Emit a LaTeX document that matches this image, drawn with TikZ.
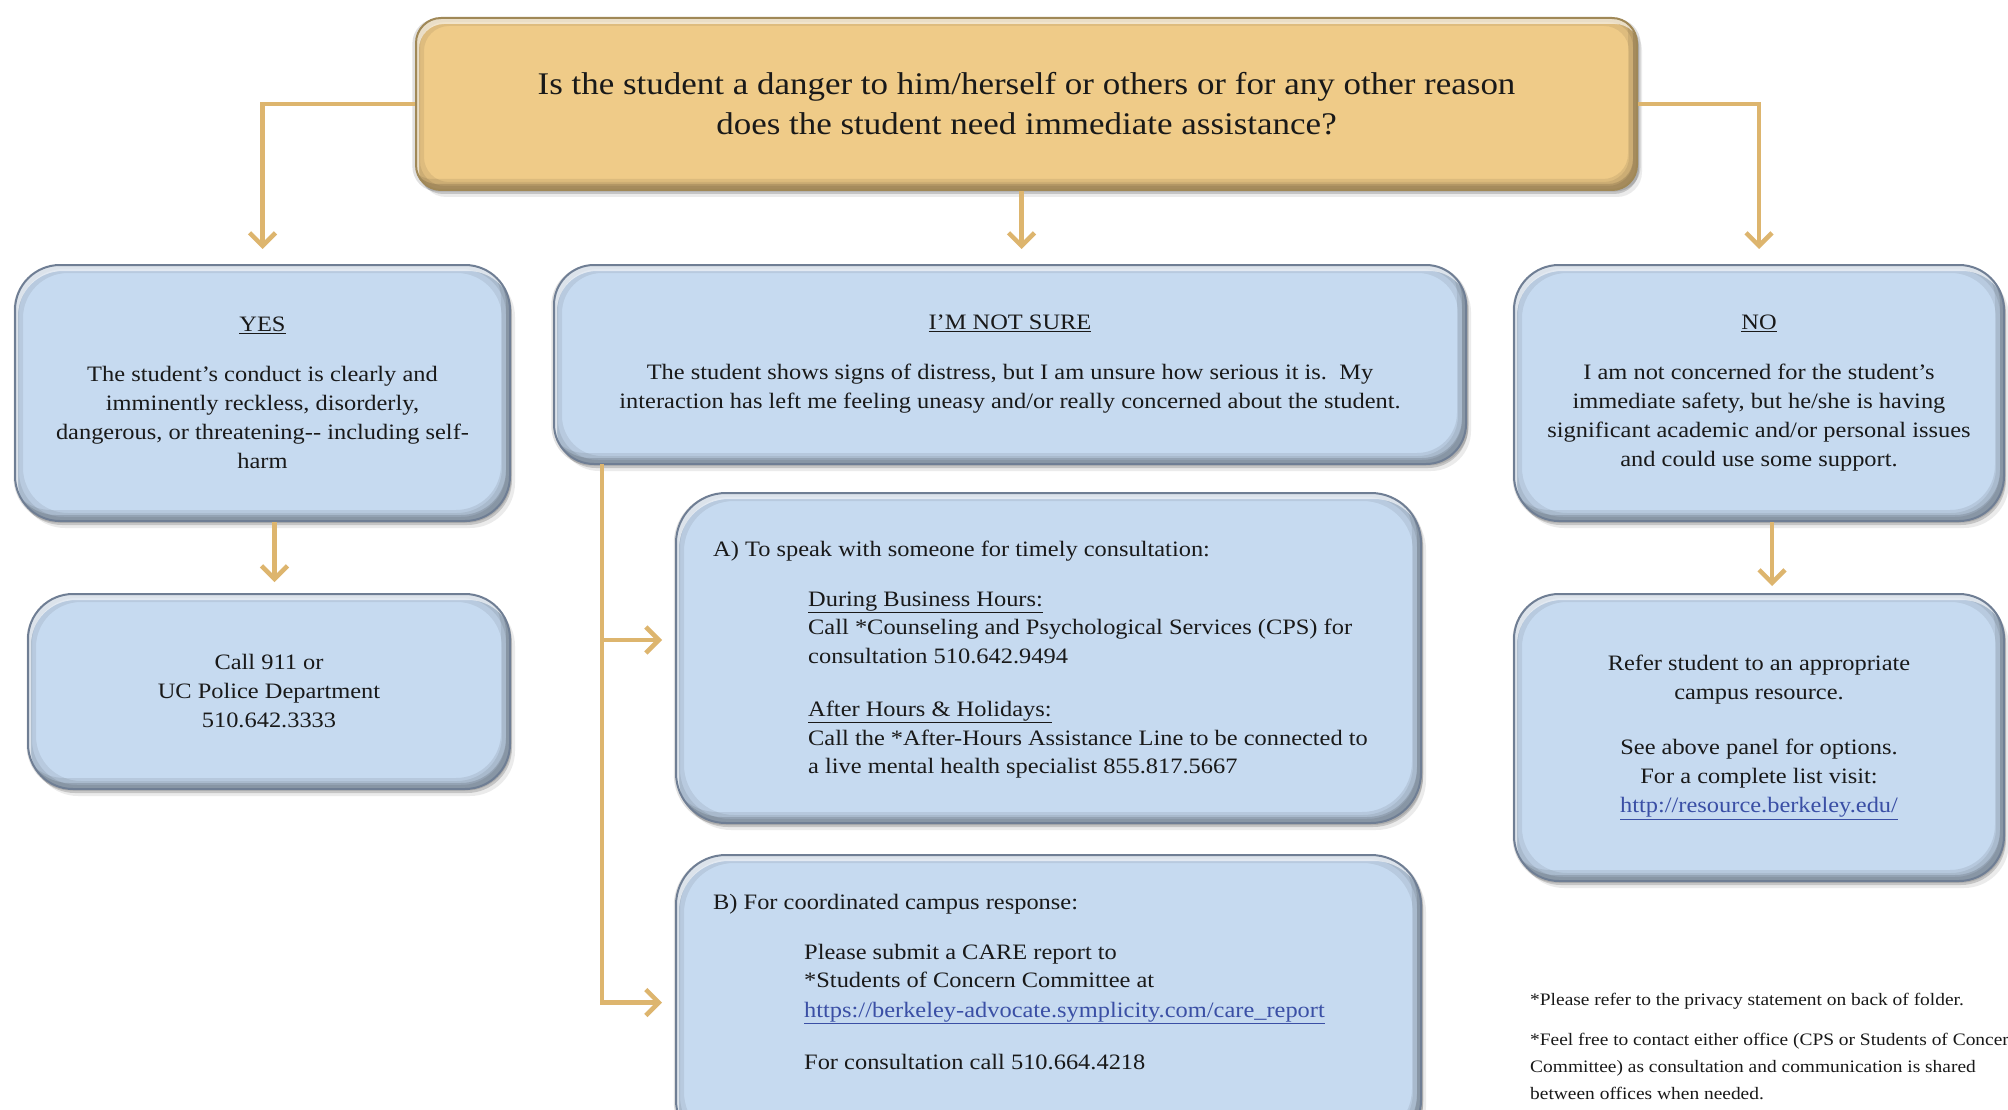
\documentclass[tikz,border=0pt]{standalone}
\usepackage{fontspec}
\setmainfont[FakeStretch=1.11]{Liberation Serif}
\usetikzlibrary{arrows.meta,shadows}
\definecolor{boxblue}{HTML}{C6DAF0}
\definecolor{rim}{HTML}{6F7E94}
\definecolor{gold}{HTML}{EFCB88}
\definecolor{goldrim}{HTML}{A08857}
\definecolor{conn}{HTML}{DDB56E}
\definecolor{urlblue}{HTML}{3A4FA5}
\begin{document}
\begin{tikzpicture}[x=1pt,y=-1pt,
  every node/.style={font=\fontsize{22}{29}\selectfont, text=black!90},
  softshadow/.style={drop shadow={shadow xshift=5pt,shadow yshift=-7pt,opacity=0.08,fill=black},
                     drop shadow={shadow xshift=2pt,shadow yshift=-4pt,opacity=0.16,fill=black},
                     drop shadow={shadow xshift=0pt,shadow yshift=-1pt,shadow scale=1.006,opacity=0.12,fill=black}},
  bevel/.style={path picture={
      % all-around inner darkening
      \fill[black, opacity=0.07, even odd rule]
        ([shift={(-2,-2)}]path picture bounding box.north west) rectangle ([shift={(2,2)}]path picture bounding box.south east)
        [rounded corners=#1] ([shift={(8,8)}]path picture bounding box.north west) rectangle ([shift={(-8,-8)}]path picture bounding box.south east);
      \fill[black, opacity=0.08, even odd rule]
        ([shift={(-2,-2)}]path picture bounding box.north west) rectangle ([shift={(2,2)}]path picture bounding box.south east)
        [rounded corners=#1] ([shift={(4,4)}]path picture bounding box.north west) rectangle ([shift={(-4,-4)}]path picture bounding box.south east);
      % extra bottom/right darkening
      \fill[black, opacity=0.08, even odd rule]
        ([shift={(-2,-2)}]path picture bounding box.north west) rectangle ([shift={(2,2)}]path picture bounding box.south east)
        [rounded corners=#1] ([shift={(-9,-11)}]path picture bounding box.north west) rectangle ([shift={(-9,-11)}]path picture bounding box.south east);
      \fill[black, opacity=0.12, even odd rule]
        ([shift={(-2,-2)}]path picture bounding box.north west) rectangle ([shift={(2,2)}]path picture bounding box.south east)
        [rounded corners=#1] ([shift={(-4,-6)}]path picture bounding box.north west) rectangle ([shift={(-4,-6)}]path picture bounding box.south east);
      % top-left highlight
      \fill[white, opacity=0.6, even odd rule]
        ([shift={(-2,-2)}]path picture bounding box.north west) rectangle ([shift={(2,2)}]path picture bounding box.south east)
        [rounded corners=#1] ([shift={(3,6)}]path picture bounding box.north west) rectangle ([shift={(3,6)}]path picture bounding box.south east);
  }},
  bluebox/.style={softshadow, draw=rim, line width=2pt, fill=boxblue, rounded corners=#1, bevel=#1, align=center},
  bluebox/.default=45pt,
  goldbox/.style={softshadow, draw=goldrim, line width=2pt, fill=gold, rounded corners=25pt, bevel=25pt, align=center},
  conn/.style={draw=conn, line width=4.5pt, -{Straight Barb[length=13pt,width=26pt,line width=4.5pt]}},
  txtline/.style={anchor=west, inner sep=0pt, text height=15pt, text depth=5pt},
  foot/.style={anchor=west, inner sep=0pt, align=left, font=\fontsize{17.5}{27}\selectfont}
]
\useasboundingbox (0,0) rectangle (2008,1110);
\fill[white] (0,0) rectangle (2008,1110);
\clip (0,0) rectangle (2008,1110);

% top question
\node[goldbox, minimum width=1221pt, minimum height=172pt, font=\fontsize{31.5}{40}\selectfont] (top) at (1026.5,104)
  {Is the student a danger to him/herself or others or for any other reason\\does the student need immediate assistance?};

% three answer boxes
\node[bluebox, minimum width=495pt, minimum height=256pt] (yes) at (262.5,393)
  {\underline{YES}\\[21pt]The student’s conduct is clearly and\\imminently reckless, disorderly,\\dangerous, or threatening{-}{-} including self-\\harm};

\node[bluebox=40pt, minimum width=912pt, minimum height=199pt] (mid) at (1010,364.5)
  {\underline{I’M NOT SURE}\\[21pt]The student shows signs of distress, but I am unsure how serious it is.\ \ My\\interaction has left me feeling uneasy and/or really concerned about the student.};

\node[bluebox, minimum width=490pt, minimum height=256pt] (no) at (1759,393)
  {\underline{NO}\\[21pt]I am not concerned for the student’s\\immediate safety, but he/she is having\\significant academic and/or personal issues\\and could use some support.};

% second row
\node[bluebox, minimum width=482pt, minimum height=195pt] (call) at (269,691.5)
  {Call 911 or\\UC Police Department\\510.642.3333};

\node[bluebox, minimum width=490pt, minimum height=287pt] (refer) at (1759,737.5)
  {Refer student to an appropriate\\campus resource.\\[26pt]See above panel for options.\\For a complete list visit:\\\textcolor{urlblue}{\underline{http://resource.berkeley.edu/}}};

\node[bluebox=50pt, minimum width=745pt, minimum height=330pt] (boxA) at (1048.5,658) {};
\node[bluebox=50pt, minimum width=745pt, minimum height=295pt] (boxB) at (1048.5,1002.5) {};

% A text
\node[txtline] (a0) at (713,551) {A) To speak with someone for timely consultation:};
\node[txtline] (a1) at (808,601) {\underline{During Business Hours:}};
\node[txtline] (a2) at (808,629) {Call *Counseling and Psychological Services (CPS) for};
\node[txtline] (a3) at (808,658) {consultation 510.642.9494};
\node[txtline] (a4) at (808,711) {\underline{After Hours \& Holidays:}};
\node[txtline] (a5) at (808,740) {Call the *After-Hours Assistance Line to be connected to};
\node[txtline] (a6) at (808,768) {a live mental health specialist 855.817.5667};

% B text
\node[txtline] (b0) at (713,904) {B) For coordinated campus response:};
\node[txtline] (b1) at (804,954) {Please submit a CARE report to};
\node[txtline] (b2) at (804,982) {*Students of Concern Committee at};
\node[txtline] (b3) at (804,1012) {\textcolor{urlblue}{\underline{https://berkeley-advocate.symplicity.com/care\_report}}};
\node[txtline] (b4) at (804,1064) {For consultation call 510.664.4218};

% footnotes
\node[foot] (f1) at (1530,1001) {*Please refer to the privacy statement on back of folder.};
\node[foot, anchor=north west] (f2) at (1530,1033) {*Feel free to contact either office (CPS or Students of Concern\\Committee) as consultation and communication is shared\\between offices when needed.};

% connectors
\draw[conn, shorten >=15pt] (top.west) -| (yes.north);
\draw[conn, shorten >=15pt] (top.east) -| (no.north);
\draw[conn, shorten >=15pt] ([xshift=-5pt]top.south) -- ([xshift=-5pt]top.south |- mid.north);
\draw[conn, shorten >=11pt] ([xshift=12pt]yes.south) -- ([xshift=12pt]yes.south |- call.north);
\draw[conn, shorten >=7pt] ([xshift=13pt]no.south) -- ([xshift=13pt]no.south |- refer.north);
\coordinate (trunk) at (602,464);
\draw[conn, shorten >=13pt] (trunk) |- ([yshift=18pt]boxA.west);
\draw[conn, shorten >=13pt] (trunk) |- (boxB.west);
\end{tikzpicture}
\end{document}
